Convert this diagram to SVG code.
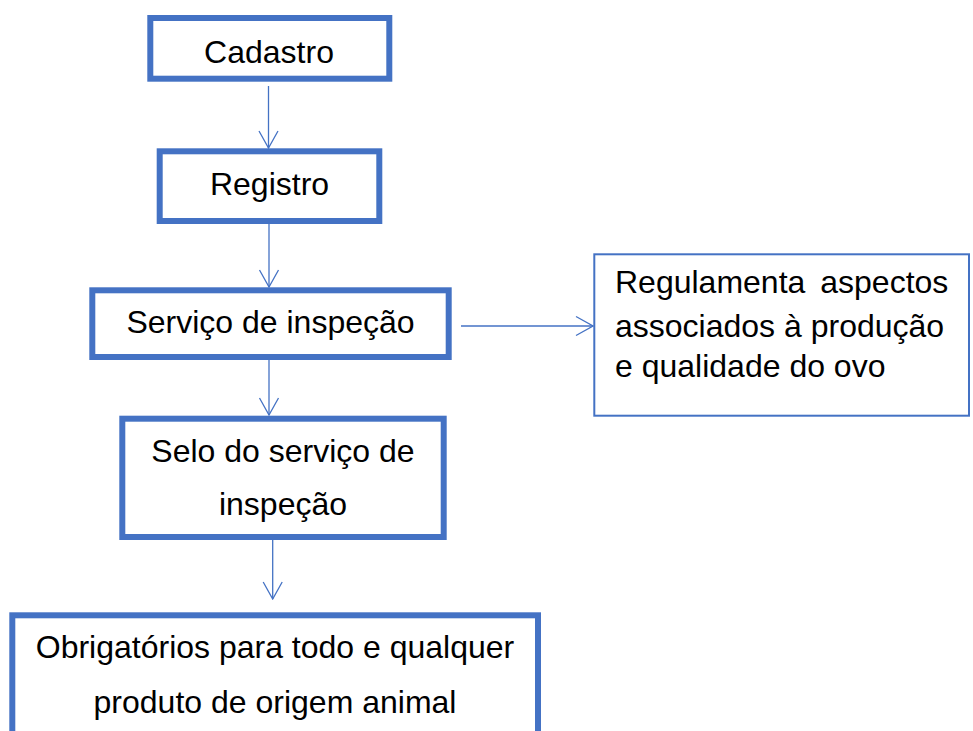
<svg xmlns="http://www.w3.org/2000/svg" width="973" height="731" viewBox="0 0 973 731">
<defs>
<style>
.box{fill:#fff;stroke:#4472C4;stroke-width:6}
.thin{fill:#fff;stroke:#4472C4;stroke-width:2}
.t{font-family:"Liberation Sans",Arial,sans-serif;font-size:32px;fill:#000}
.c{text-anchor:middle}
.ln{stroke:#4472C4;stroke-width:1.3;fill:none}
</style>
<marker id="arr" markerUnits="userSpaceOnUse" viewBox="-19 -11 20 22" refX="0" refY="0" markerWidth="20" markerHeight="22" orient="auto">
<path d="M-17,-9.5 L0,0 L-17,9.5" fill="none" stroke="#4472C4" stroke-width="1.3"/>
</marker>
</defs>
<rect width="973" height="731" fill="#fff"/>
<g id="connectors">
<line class="ln" x1="268.5" y1="86" x2="268.5" y2="148" marker-end="url(#arr)"/>
<line class="ln" x1="269" y1="224" x2="269" y2="287" marker-end="url(#arr)"/>
<line class="ln" x1="269" y1="355" x2="269" y2="415" marker-end="url(#arr)"/>
<line class="ln" x1="461" y1="326" x2="593" y2="326" marker-end="url(#arr)"/>
<line class="ln" x1="272.7" y1="540" x2="272.7" y2="599" marker-end="url(#arr)"/>
</g>
<g id="cadastro">
<rect class="box" x="150.3" y="18" width="239" height="60.7"/>
<text class="t c" x="269" y="62.7">Cadastro</text>
</g>
<g id="registro">
<rect class="box" x="159.7" y="151.3" width="219.6" height="69.7"/>
<text class="t c" x="269.5" y="195">Registro</text>
</g>
<g id="servico">
<rect class="box" x="92.3" y="290.3" width="356.4" height="66.7"/>
<text class="t c" x="270.5" y="333.3">Serviço de inspeção</text>
</g>
<g id="regulamenta">
<rect class="thin" x="594.3" y="254.3" width="374.7" height="161.4"/>
<text class="t" x="615" y="293.3" word-spacing="6">Regulamenta aspectos</text>
<text class="t" x="615" y="336.7">associados à produção</text>
<text class="t" x="615" y="376.7">e qualidade do ovo</text>
</g>
<g id="selo">
<rect class="box" x="122.3" y="418.7" width="321.4" height="118.3"/>
<text class="t c" x="283" y="461.7">Selo do serviço de</text>
<text class="t c" x="283" y="515">inspeção</text>
</g>
<g id="obrigatorios">
<rect class="box" x="12.3" y="615.3" width="525.7" height="140"/>
<text class="t c" x="275" y="658.3">Obrigatórios para todo e qualquer</text>
<text class="t c" x="275" y="713.3">produto de origem animal</text>
</g>
</svg>
